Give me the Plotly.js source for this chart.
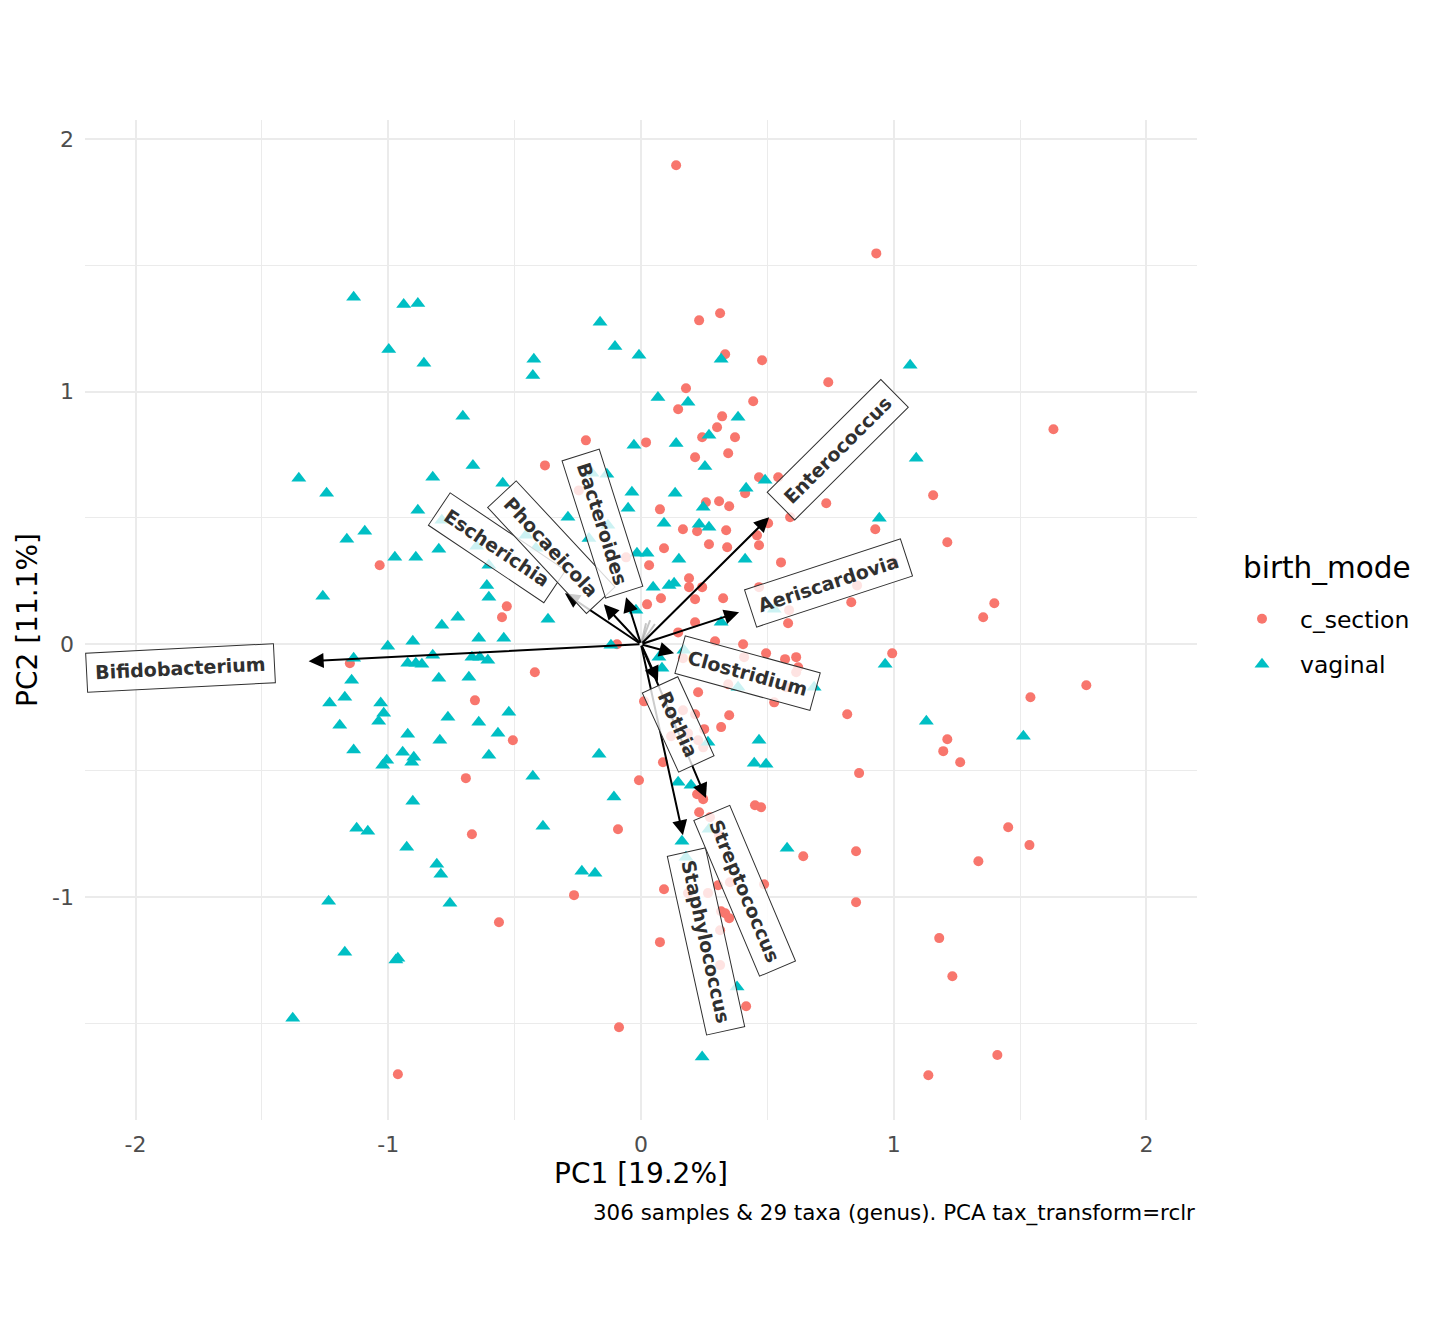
<!DOCTYPE html>
<html><head><meta charset="utf-8">
<script src="https://cdn.plot.ly/plotly-3.0.1.min.js"></script>
<style>body{margin:0;background:#fff}</style>
</head><body><div id="chart" style="width:1440px;height:1344px"></div>
<script>
// ---- sample scores (PC1, PC2) ----
const csX = [0.139,0.931,0.230,0.313,0.333,0.479,0.741,0.178,0.444,0.147,
0.321,1.632,0.301,0.242,0.372,-0.218,0.020,0.214,0.345,-0.380,
0.467,0.543,0.412,0.257,0.309,0.349,0.733,0.075,1.156,0.927,
1.212,0.590,0.503,0.166,0.222,0.337,0.459,0.269,0.341,0.467,
0.091,-0.246,-0.059,0.554,0.998,0.032,-1.034,0.190,0.190,0.242,
0.855,0.467,0.079,0.214,0.325,0.024,-0.531,-0.550,0.832,1.398,
1.354,0.586,0.582,0.214,0.147,0.293,0.404,-0.095,0.495,0.408,
0.570,0.614,0.622,0.614,0.994,0.166,-0.420,-1.152,0.345,0.527,
0.574,0.226,0.012,-0.657,0.214,0.349,0.166,0.250,0.317,-0.507,
0.119,0.186,0.226,0.246,0.087,-0.693,-0.008,1.762,1.541,0.816,
1.212,1.196,1.263,0.863,0.222,0.246,0.230,0.273,0.451,0.475,
0.642,0.309,-0.091,-0.669,0.851,1.453,1.537,1.335,0.091,0.186,
0.265,0.305,0.352,0.487,-0.265,0.317,0.333,0.349,0.313,-0.562,
0.851,0.075,0.313,0.416,-0.087,1.180,1.232,1.410,1.137,-0.962];
const csY = [1.896,1.547,1.282,1.310,1.148,1.124,1.037,1.013,0.962,0.930,
0.902,0.851,0.859,0.819,0.819,0.807,0.799,0.740,0.756,0.708,
0.661,0.661,0.598,0.562,0.566,0.546,0.558,0.534,0.590,0.455,
0.404,0.503,0.479,0.455,0.447,0.451,0.431,0.396,0.384,0.392,
0.380,0.609,0.344,0.324,0.324,0.313,0.313,0.261,0.226,0.226,
0.233,0.226,0.182,0.178,0.182,0.158,0.150,0.107,0.166,0.162,
0.107,0.135,0.083,0.087,0.047,0.012,0.000,0.000,-0.036,-0.051,
-0.059,-0.051,-0.091,-0.111,-0.036,-0.055,-0.111,-0.075,-0.158,-0.230,
-0.170,-0.190,-0.226,-0.222,-0.277,-0.281,-0.261,-0.336,-0.328,-0.380,
-0.364,-0.352,-0.380,-0.408,-0.467,-0.530,-0.538,-0.162,-0.210,-0.277,
-0.376,-0.423,-0.467,-0.510,-0.594,-0.613,-0.665,-0.685,-0.637,-0.645,
-0.839,-0.756,-0.732,-0.752,-0.819,-0.724,-0.795,-0.859,-0.970,-0.985,
-0.985,-0.954,-0.942,-0.950,-0.993,-1.057,-1.065,-1.084,-1.132,-1.100,
-1.021,-1.179,-1.270,-1.433,-1.516,-1.163,-1.314,-1.626,-1.706,-1.702];

const vgX = [-1.137,-0.939,-0.883,-0.998,-0.859,-0.162,-0.103,-0.008,0.317,-0.424,
-0.428,1.065,0.067,0.186,-0.705,0.384,0.269,-0.028,0.139,1.089,
-0.665,-0.194,-0.135,0.253,-1.354,-0.824,-0.547,-0.036,0.135,0.416,
0.491,-1.244,0.246,-0.051,-0.289,0.943,-0.883,-0.788,-1.093,-1.164,
-0.974,-0.891,-0.800,0.091,0.230,0.269,-0.131,-0.206,-0.650,-0.416,
-0.455,-0.016,0.024,0.150,0.412,-0.602,0.048,0.111,0.131,-0.610,
-0.602,-1.259,-0.725,-0.788,-0.020,-0.368,0.527,0.317,-0.642,-0.543,
-0.119,-1.002,-0.903,-0.824,-1.137,-0.923,-0.891,-0.867,-0.669,-0.638,
-0.606,0.071,0.170,0.083,-0.681,-0.800,-1.145,0.685,0.384,0.966,
-1.172,-1.232,-1.030,-1.018,-1.038,-1.192,-0.764,-0.523,-0.642,-0.566,
-0.923,-0.796,0.265,0.467,-1.137,-0.943,-0.899,-0.907,-1.006,-1.022,
-0.602,-0.166,0.448,0.495,-0.428,0.147,0.198,1.129,1.513,-0.903,
-1.125,-1.081,-0.927,-0.808,-0.792,-1.236,-0.756,-1.172,-0.962,-0.970,
-1.378,-0.107,-0.388,0.269,0.162,0.178,0.578,-0.234,-0.182,0.380,0.242];
const vgY = [1.373,1.345,1.349,1.167,1.112,1.274,1.179,1.144,1.128,1.128,
1.064,1.104,0.977,0.958,0.902,0.898,0.827,0.788,0.795,0.736,
0.708,0.677,0.673,0.704,0.657,0.661,0.637,0.602,0.598,0.617,
0.649,0.598,0.542,0.538,0.503,0.499,0.530,0.491,0.447,0.416,
0.344,0.344,0.376,0.479,0.475,0.463,0.471,0.419,0.388,0.380,
0.431,0.360,0.360,0.336,0.336,0.313,0.226,0.233,0.241,0.233,
0.186,0.190,0.107,0.075,0.135,0.099,0.139,0.087,0.024,0.024,
-0.004,-0.008,0.012,-0.044,-0.055,-0.075,-0.075,-0.079,-0.051,-0.051,
-0.063,-0.051,-0.024,-0.095,-0.131,-0.135,-0.142,-0.170,-0.170,-0.079,
-0.210,-0.233,-0.233,-0.273,-0.305,-0.321,-0.289,-0.269,-0.309,-0.352,
-0.356,-0.380,-0.388,-0.380,-0.419,-0.427,-0.447,-0.467,-0.459,-0.479,
-0.439,-0.435,-0.471,-0.475,-0.522,-0.546,-0.558,-0.305,-0.364,-0.621,
-0.728,-0.740,-0.803,-0.871,-0.910,-1.017,-1.025,-1.219,-1.243,-1.250,
-1.480,-0.605,-0.720,-0.732,-0.780,-0.843,-0.807,-0.898,-0.906,-1.357,-1.634];

// ---- taxa loadings (labelled) ----
const taxaNames = ['Bifidobacterium','Escherichia','Phocaeicola','Bacteroides','Enterococcus',
                   'Aeriscardovia','Clostridium','Rothia','Staphylococcus','Streptococcus'];
const taxaPC1 = [-1.315,-0.301,-0.147,-0.059,0.507,0.388,0.131,0.067,0.166,0.257];
const taxaPC2 = [-0.067,0.202,0.158,0.186,0.503,0.127,-0.036,-0.146,-0.756,-0.609];
// ---- other (unlabelled) taxa loadings ----
const otherPC1 = [0.036,0.020,-0.020,0.067,0.032,0.055];
const otherPC2 = [0.095,0.083,0.055,0.024,-0.063,0.080];

const xTickVals = [-2,-1,0,1,2];
const xTickText = ['-2','-1','0','1','2'];
const yTickVals = [-1,0,1,2];
const yTickText = ['-1','0','1','2'];

// ---- layout geometry ----
const W = 1440, H = 1344;
const M = {l:85, r:243, t:120, b:224};
const xr = [-2.2, 2.2], yr = [-1.883, 2.075];
const plotW = W - M.l - M.r, plotH = H - M.t - M.b;
const pxPerX = plotW / (xr[1]-xr[0]);
const pxPerY = plotH / (yr[1]-yr[0]);
const labSize = 19, labPad = 8;
const px2paperX = p => (p - M.l) / plotW;
const px2paperY = p => (H - M.b - p) / plotH;

const traces = [
  {type:'scatter', mode:'markers', name:'c_section', x:csX, y:csY, legendgroup:'a',
   marker:{color:'#F8766D', size:10, symbol:'circle', line:{width:0}}, hoverinfo:'skip'},
  {type:'scatter', mode:'markers', name:'vaginal', x:vgX, y:vgY, legendgroup:'b',
   marker:{color:'#00BFC4', size:13, symbol:'triangle-up', line:{width:0}}, hoverinfo:'skip'}
];

const anns = [];
otherPC1.forEach((x,i)=>{
  anns.push({x:x, y:otherPC2[i], ax:0, ay:0, xref:'x', yref:'y', axref:'x', ayref:'y',
    text:'', showarrow:true, arrowhead:0, arrowwidth:2, arrowcolor:'rgba(150,150,150,0.55)', standoff:0});
});
taxaNames.forEach((n,i)=>{
  anns.push({x:taxaPC1[i], y:taxaPC2[i], ax:0, ay:0, xref:'x', yref:'y', axref:'x', ayref:'y',
    text:'', showarrow:true, arrowhead:2, arrowsize:1.5, arrowwidth:2, arrowcolor:'#000', standoff:0});
});
taxaNames.forEach((n,i)=>{
  const x = taxaPC1[i], y = taxaPC2[i];
  const sx = x*pxPerX, sy = -y*pxPerY;
  const L = Math.hypot(sx, sy), ux = sx/L, uy = sy/L;
  let ang = Math.atan2(sy, sx)*180/Math.PI;
  if (ang > 90) ang -= 180; if (ang < -90) ang += 180;
  const half = n.length*0.605*labSize/2 + labPad + 1;
  const cx = x*1.1 + ux*half/pxPerX;
  const cy = y*1.1 - uy*half/pxPerY;
  anns.push({x:cx, y:cy, xref:'x', yref:'y', text:n, showarrow:false, textangle:ang,
    xanchor:'center', yanchor:'middle',
    font:{family:'DejaVu Sans', size:labSize, weight:'bold', color:'#303030'},
    bgcolor:'rgba(255,255,255,0.8)', bordercolor:'#303030', borderwidth:1, borderpad:labPad});
});
anns.push({xref:'paper', yref:'paper', x:1, y:px2paperY(1213), xanchor:'right', yanchor:'middle',
  text:'306 samples & 29 taxa (genus). PCA tax_transform=rclr', showarrow:false,
  font:{family:'DejaVu Sans', size:21.4, color:'#000'}});
// legend title
anns.push({xref:'paper', yref:'paper', x:px2paperX(1241), y:px2paperY(568), xanchor:'left', yanchor:'middle',
  text:'birth_mode', showarrow:false, font:{family:'DejaVu Sans', size:29.5, color:'#000'}});

const grid = {showgrid:true, gridcolor:'#EBEBEB', gridwidth:2, zeroline:false, showline:false, ticks:'',
  automargin:false, tickfont:{family:'DejaVu Sans', size:22, color:'#4D4D4D'}};

const layout = {
  width:W, height:H, margin:Object.assign({autoexpand:false}, M),
  paper_bgcolor:'#fff', plot_bgcolor:'#fff',
  font:{family:'DejaVu Sans', color:'#000'},
  showlegend:true,
  xaxis:Object.assign({}, grid, {range:xr, tickmode:'array', tickvals:xTickVals, ticktext:xTickText,
    ticklabelstandoff:9,
    minor:{tickmode:'array', tickvals:[-1.5,-0.5,0.5,1.5], showgrid:true, gridcolor:'#EBEBEB', gridwidth:1, ticks:''},
    title:{text:'PC1 [19.2%]', font:{family:'DejaVu Sans', size:28, color:'#000'}, standoff:5}}),
  yaxis:Object.assign({}, grid, {range:yr, tickmode:'array', tickvals:yTickVals, ticktext:yTickText,
    ticklabelstandoff:10,
    minor:{tickmode:'array', tickvals:[-1.5,-0.5,0.5,1.5], showgrid:true, gridcolor:'#EBEBEB', gridwidth:1, ticks:''},
    title:{text:'PC2 [11.1%]', font:{family:'DejaVu Sans', size:28, color:'#000'}, standoff:6}}),
  legend:{x:px2paperX(1224), y:px2paperY(597), xanchor:'left', yanchor:'top', tracegroupgap:12, itemwidth:66,
    font:{family:'DejaVu Sans', size:23.5, color:'#000'}, bgcolor:'rgba(0,0,0,0)'},
  annotations:anns
};
Plotly.newPlot('chart', traces, layout, {staticPlot:true});
</script></body></html>
